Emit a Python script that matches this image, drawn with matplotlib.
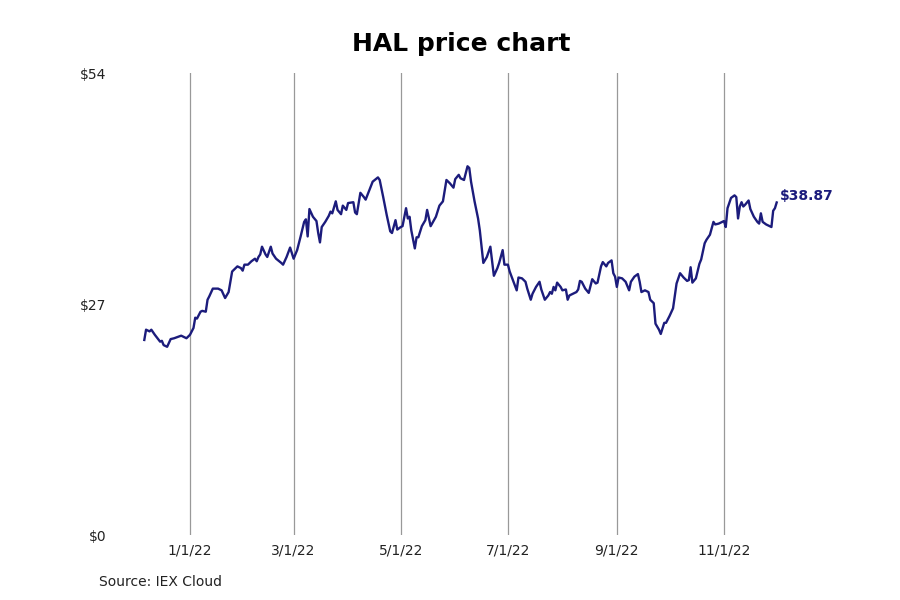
import pandas as pd
import matplotlib
matplotlib.use("Agg")
import matplotlib.pyplot as plt

dates = [
    "2021-12-06", "2021-12-07", "2021-12-09", "2021-12-10", "2021-12-12", "2021-12-15",
    "2021-12-16", "2021-12-17", "2021-12-19", "2021-12-21", "2021-12-23", "2021-12-27",
    "2021-12-30", "2022-01-01", "2022-01-03", "2022-01-04", "2022-01-05", "2022-01-07",
    "2022-01-08", "2022-01-10", "2022-01-11", "2022-01-12", "2022-01-14", "2022-01-17",
    "2022-01-19", "2022-01-21", "2022-01-23", "2022-01-25", "2022-01-26", "2022-01-28",
    "2022-01-30", "2022-01-31", "2022-02-01", "2022-02-03", "2022-02-05", "2022-02-07",
    "2022-02-08", "2022-02-09", "2022-02-10", "2022-02-11", "2022-02-13", "2022-02-14",
    "2022-02-16", "2022-02-17", "2022-02-19", "2022-02-22", "2022-02-23", "2022-02-25",
    "2022-02-27", "2022-03-01", "2022-03-03", "2022-03-05", "2022-03-07", "2022-03-08",
    "2022-03-09", "2022-03-10", "2022-03-12", "2022-03-14", "2022-03-15", "2022-03-16",
    "2022-03-17", "2022-03-19", "2022-03-21", "2022-03-22", "2022-03-23", "2022-03-25",
    "2022-03-26", "2022-03-28", "2022-03-29", "2022-03-31", "2022-04-01", "2022-04-04",
    "2022-04-05", "2022-04-06", "2022-04-08", "2022-04-10", "2022-04-11", "2022-04-14",
    "2022-04-15", "2022-04-18", "2022-04-19", "2022-04-21", "2022-04-23", "2022-04-25",
    "2022-04-26", "2022-04-28", "2022-04-29", "2022-05-01", "2022-05-02", "2022-05-04",
    "2022-05-05", "2022-05-06", "2022-05-07", "2022-05-09", "2022-05-10", "2022-05-11",
    "2022-05-13", "2022-05-15", "2022-05-16", "2022-05-18", "2022-05-21", "2022-05-23",
    "2022-05-25", "2022-05-27", "2022-05-29", "2022-05-31", "2022-06-01", "2022-06-03",
    "2022-06-04", "2022-06-06", "2022-06-08", "2022-06-09", "2022-06-10", "2022-06-12",
    "2022-06-14", "2022-06-15", "2022-06-17", "2022-06-19", "2022-06-21", "2022-06-23",
    "2022-06-25", "2022-06-26", "2022-06-28", "2022-06-29", "2022-07-01", "2022-07-02",
    "2022-07-04", "2022-07-06", "2022-07-07", "2022-07-09", "2022-07-11", "2022-07-12",
    "2022-07-14", "2022-07-15", "2022-07-17", "2022-07-19", "2022-07-20", "2022-07-22",
    "2022-07-24", "2022-07-25", "2022-07-26", "2022-07-27", "2022-07-28", "2022-07-29",
    "2022-07-31", "2022-08-01", "2022-08-03", "2022-08-04", "2022-08-05", "2022-08-07",
    "2022-08-09", "2022-08-10", "2022-08-11", "2022-08-12", "2022-08-14", "2022-08-16",
    "2022-08-18", "2022-08-20", "2022-08-21", "2022-08-23", "2022-08-24", "2022-08-26",
    "2022-08-27", "2022-08-29", "2022-08-30", "2022-08-31", "2022-09-01", "2022-09-02",
    "2022-09-04", "2022-09-06", "2022-09-08", "2022-09-09", "2022-09-11", "2022-09-13",
    "2022-09-14", "2022-09-15", "2022-09-17", "2022-09-19", "2022-09-20", "2022-09-22",
    "2022-09-23", "2022-09-25", "2022-09-26", "2022-09-28", "2022-09-29", "2022-10-01",
    "2022-10-03", "2022-10-05", "2022-10-07", "2022-10-09", "2022-10-11", "2022-10-12",
    "2022-10-13", "2022-10-14", "2022-10-16", "2022-10-18", "2022-10-19", "2022-10-21",
    "2022-10-22", "2022-10-24", "2022-10-26", "2022-10-27", "2022-10-29", "2022-10-31",
    "2022-11-01", "2022-11-02", "2022-11-03", "2022-11-05", "2022-11-07", "2022-11-08",
    "2022-11-09", "2022-11-10", "2022-11-11", "2022-11-12", "2022-11-13", "2022-11-15",
    "2022-11-16", "2022-11-18", "2022-11-20", "2022-11-21", "2022-11-22", "2022-11-23",
    "2022-11-25", "2022-11-28", "2022-11-29", "2022-11-30", "2022-12-01",
]

prices = [
    22.8, 24.0, 23.8, 24.0, 23.4, 22.6,
    22.7, 22.2, 22.0, 22.9, 23.0, 23.3,
    23.0, 23.4, 24.2, 25.4, 25.3, 26.1,
    26.2, 26.1, 27.5, 27.9, 28.8, 28.8,
    28.6, 27.7, 28.4, 30.8, 31.0, 31.4,
    31.2, 30.9, 31.6, 31.6, 32.0, 32.3,
    32.0, 32.5, 32.8, 33.7, 32.8, 32.5,
    33.7, 32.9, 32.3, 31.8, 31.6, 32.5,
    33.6, 32.3, 33.3, 34.9, 36.6, 36.9,
    34.9, 38.1, 37.2, 36.7, 35.3, 34.2,
    36.0, 36.6, 37.3, 37.8, 37.6, 39.0,
    38.0, 37.5, 38.5, 38.0, 38.8, 38.9,
    37.7, 37.5, 40.0, 39.5, 39.2, 40.8,
    41.3, 41.8, 41.5, 39.5, 37.4, 35.5,
    35.3, 36.8, 35.7, 36.0, 36.1, 38.2,
    37.0, 37.2, 35.6, 33.5, 34.8, 34.8,
    36.1, 36.8, 38.0, 36.1, 37.2, 38.5,
    39.0, 41.5, 41.1, 40.6, 41.6, 42.1,
    41.7, 41.5, 43.1, 42.9, 41.3, 39.0,
    37.0, 35.6, 31.8, 32.5, 33.7, 30.3,
    31.2, 31.8, 33.3, 31.6, 31.6, 30.8,
    29.7, 28.6, 30.1, 30.0, 29.6, 28.8,
    27.5, 28.2, 29.0, 29.6, 28.7, 27.5,
    28.0, 28.4, 28.2, 29.0, 28.6, 29.5,
    29.0, 28.6, 28.7, 27.5, 28.0, 28.2,
    28.4, 28.7, 29.7, 29.6, 28.8, 28.3,
    29.9, 29.4, 29.5, 31.4, 31.9, 31.4,
    31.8, 32.1, 30.6, 30.2, 29.0, 30.1,
    30.0, 29.6, 28.6, 29.6, 30.2, 30.5,
    29.6, 28.4, 28.6, 28.4, 27.5, 27.1,
    24.7, 24.0, 23.5, 24.8, 24.8, 25.6,
    26.5, 29.4, 30.6, 30.1, 29.7, 29.8,
    31.3, 29.5, 30.0, 31.7, 32.2, 34.1,
    34.5, 35.1, 36.6, 36.3, 36.4, 36.6,
    36.7, 36.0, 38.2, 39.4, 39.7, 39.5,
    37.0, 38.4, 38.9, 38.4, 38.6, 39.1,
    38.1, 37.2, 36.6, 36.4, 37.6, 36.6,
    36.3, 36.0, 37.9, 38.2, 38.87,
]

tick_dates = ["2022-01-01", "2022-03-01", "2022-05-01", "2022-07-01", "2022-09-01", "2022-11-01"]
tick_labels = ["1/1/22", "3/1/22", "5/1/22", "7/1/22", "9/1/22", "11/1/22"]
y_ticks = [0, 27, 54]
y_labels = ["$0", "$27", "$54"]

navy = "#1c1c7c"

x = pd.to_datetime(dates)
fig = plt.figure(figsize=(9, 6), dpi=100)
ax = fig.add_axes([0.1333, 0.1083, 0.7578, 0.77])

ax.plot(x, prices, color=navy, lw=1.7, solid_joinstyle="round")

jan1 = pd.Timestamp("2022-01-01")
ax.set_xlim(jan1 - pd.Timedelta(days=39.85), jan1 + pd.Timedelta(days=348.4))
ax.set_ylim(0, 54)

ax.set_xticks(pd.to_datetime(tick_dates))
ax.set_xticklabels(tick_labels, fontsize=10)
ax.set_yticks(y_ticks)
ax.set_yticklabels(y_labels, fontsize=10)
ax.tick_params(axis="both", length=0, colors="#222222")
ax.tick_params(axis="x", pad=6)
ax.tick_params(axis="y", pad=10)
ax.grid(axis="x", color="#999999", lw=0.9)
ax.grid(axis="y", visible=False)
for s in ax.spines.values():
    s.set_visible(False)

ax.annotate(f"${prices[-1]:.2f}", xy=(x[-1], prices[-1]), xytext=(2, 4.5),
            textcoords="offset points", ha="left", va="center",
            fontsize=10, fontweight="bold", color=navy)

ax.set_title("HAL price chart", fontsize=18, fontweight="bold", pad=16)
fig.text(99 / 900, 0.03, "Source: IEX Cloud", fontsize=10, va="center", ha="left", color="#222222")

fig.savefig("out.png", dpi=100)
